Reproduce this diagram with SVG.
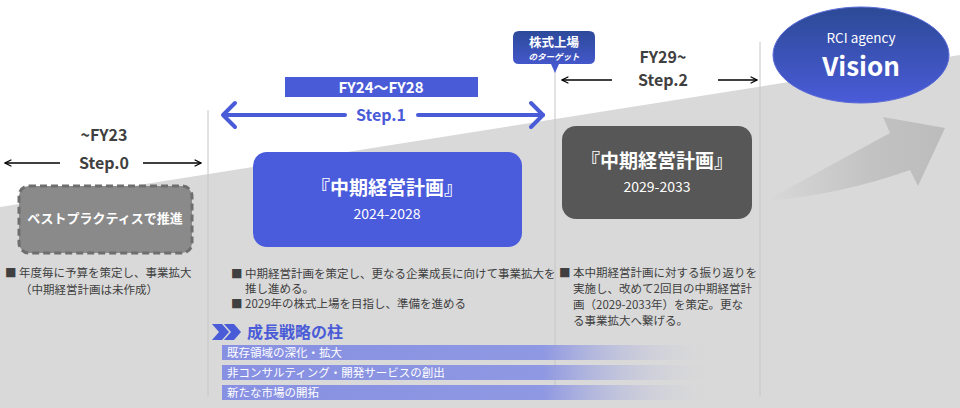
<svg xmlns="http://www.w3.org/2000/svg" width="960" height="408" viewBox="0 0 960 408">
<defs>
<style>
text{font-family:"Noto Sans CJK JP","Noto Sans",sans-serif}
.step{font-size:16px;font-weight:bold;fill:#404040;text-anchor:middle}
.bul{font-size:11.5px;fill:#404040}
.bar{font-size:11.5px;fill:#ffffff}
.vl{stroke:#c6c6c6;stroke-width:1}
.ba{stroke:#000;stroke-width:1.5;fill:none}
.wt{fill:#fff;text-anchor:middle}
</style>
<linearGradient id="barg" x1="0" y1="0" x2="1" y2="0">
<stop offset="0" stop-color="#8790e2"/>
<stop offset="0.65" stop-color="#8f98e2"/>
<stop offset="1" stop-color="#d9d9d9" stop-opacity="0"/>
</linearGradient>
<linearGradient id="visg" x1="0" y1="0" x2="0" y2="1">
<stop offset="0" stop-color="#2c4a96"/>
<stop offset="1" stop-color="#4a5bd8"/>
</linearGradient>
<linearGradient id="calg" x1="0" y1="0" x2="0" y2="1">
<stop offset="0" stop-color="#2c4a9a"/>
<stop offset="1" stop-color="#4a5bd8"/>
</linearGradient>
<linearGradient id="arg" x1="765" y1="0" x2="945" y2="0" gradientUnits="userSpaceOnUse">
<stop offset="0" stop-color="#d9d9d9"/>
<stop offset="0.6" stop-color="#c2c2c2"/>
<stop offset="1" stop-color="#bcbcbc"/>
</linearGradient>
<marker id="oh" viewBox="0 0 10 10" refX="9" refY="5" markerWidth="8" markerHeight="8" orient="auto-start-reverse" markerUnits="userSpaceOnUse">
<path d="M1,1 L9,5 L1,9" fill="none" stroke="#000" stroke-width="1.5"/>
</marker>
</defs>
<rect width="960" height="408" fill="#ffffff"/>
<polygon points="0,207 960,55 960,408 0,408" fill="#d9d9d9"/>
<g id="bigarrow">
<path d="M765,201 L890,133 L883,117 L945,128 L918,186 L910,170 Q840,195 765,201 Z" fill="url(#arg)"/>
</g>
<g id="dividers">
<line class="vl" x1="208" y1="110" x2="208" y2="396"/>
<line class="vl" x1="555" y1="70" x2="555" y2="392"/>
<line class="vl" x1="760" y1="42" x2="760" y2="396"/>
</g>
<g id="connectors">
<line class="ba" x1="60" y1="163" x2="5" y2="163" marker-end="url(#oh)"/>
<line class="ba" x1="143" y1="163" x2="201" y2="163" marker-end="url(#oh)"/>
<line class="ba" x1="612" y1="80" x2="562" y2="80" marker-end="url(#oh)"/>
<line class="ba" x1="718" y1="80" x2="757" y2="80" marker-end="url(#oh)"/>
<g stroke="#4a5bd8" stroke-width="4" fill="none" stroke-linecap="round" stroke-linejoin="round">
<line x1="224" y1="115" x2="345" y2="115"/>
<line x1="418" y1="115" x2="543" y2="115"/>
<path d="M235,103 L223,115 L235,127"/>
<path d="M531,103 L543,115 L531,127"/>
</g>
</g>
<g id="step0">
<text class="step" x="104" y="141">~FY23</text>
<text class="step" x="104" y="169">Step.0</text>
</g>
<g id="best">
<rect x="19" y="186" width="173" height="67" rx="10" fill="#8a8a8a" stroke="#6e6e6e" stroke-width="3" stroke-dasharray="7,4"/>
<text class="wt" x="105" y="223" font-size="13" font-weight="bold">ベストプラクティスで推進</text>
</g>
<g id="notes0">
<text class="bul" x="5" y="277">■ 年度毎に予算を策定し、事業拡大</text>
<text class="bul" x="20" y="294">（中期経営計画は未作成）</text>
</g>
<g id="step1">
<rect x="285" y="77" width="193" height="20" fill="#4a5bd8"/>
<text class="wt" x="381" y="93" font-size="15" font-weight="bold">FY24～FY28</text>
<text x="381" y="121" font-size="16" font-weight="bold" fill="#4a5bd8" text-anchor="middle">Step.1</text>
</g>
<g id="plan1">
<rect x="253" y="152" width="269" height="95" rx="14" fill="#4a5bdc"/>
<text class="wt" x="387" y="195" font-size="19" font-weight="bold">『中期経営計画』</text>
<text class="wt" x="387" y="219" font-size="14">2024-2028</text>
</g>
<g id="notes1">
<text class="bul" x="231" y="278">■ 中期経営計画を策定し、更なる企業成長に向けて事業拡大を</text>
<text class="bul" x="245" y="293">推し進める。</text>
<text class="bul" x="231" y="308">■ 2029年の株式上場を目指し、準備を進める</text>
</g>
<g id="pillars">
<path d="M212,324 L222,324 L229,332 L222,340 L212,340 L219,332 Z" fill="#4a5bd8"/>
<path d="M224,324 L234,324 L241,332 L234,340 L224,340 L231,332 Z" fill="#4a5bd8"/>
<text x="247" y="338" font-size="16" font-weight="bold" fill="#4a5bd8">成長戦略の柱</text>
<rect x="222" y="345" width="495" height="15" fill="url(#barg)"/>
<rect x="222" y="365" width="495" height="15" fill="url(#barg)"/>
<rect x="222" y="385" width="495" height="15" fill="url(#barg)"/>
<text class="bar" x="227" y="357">既存領域の深化・拡大</text>
<text class="bar" x="227" y="377">非コンサルティング・開発サービスの創出</text>
<text class="bar" x="227" y="397">新たな市場の開拓</text>
</g>
<g id="ipo">
<path d="M519,31 L589,31 Q595,31 595,37 L595,58 Q595,64 589,64 L559,64 L555,73 L551,64 L519,64 Q513,64 513,58 L513,37 Q513,31 519,31 Z" fill="url(#calg)"/>
<text class="wt" x="554" y="47" font-size="12.5" font-weight="bold">株式上場</text>
<text class="wt" x="554" y="60" font-size="8.5" font-weight="bold" font-style="italic">のターゲット</text>
</g>
<g id="step2">
<text class="step" x="663" y="63">FY29~</text>
<text class="step" x="663" y="86">Step.2</text>
</g>
<g id="plan2">
<rect x="562" y="126" width="190" height="93" rx="14" fill="#575757"/>
<text class="wt" x="657" y="168" font-size="19" font-weight="bold">『中期経営計画』</text>
<text class="wt" x="657" y="192" font-size="14">2029-2033</text>
</g>
<g id="notes2">
<text class="bul" x="559" y="277">■ 本中期経営計画に対する振り返りを</text>
<text class="bul" x="573" y="293">実施し、改めて2回目の中期経営計</text>
<text class="bul" x="573" y="309">画（2029-2033年）を策定。更な</text>
<text class="bul" x="573" y="325">る事業拡大へ繋げる。</text>
</g>
<g id="vision">
<ellipse cx="861" cy="55" rx="88" ry="48" fill="url(#visg)" stroke="#5a6ad8" stroke-width="1"/>
<text class="wt" x="861" y="43" font-size="13.5">RCI agency</text>
<text class="wt" x="861" y="76" font-size="26" font-weight="bold">Vision</text>
</g>
</svg>
